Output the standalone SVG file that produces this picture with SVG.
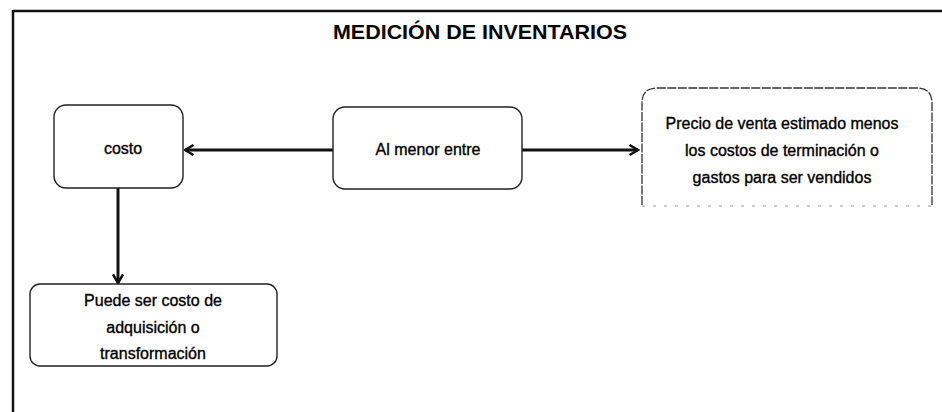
<svg xmlns="http://www.w3.org/2000/svg" width="942" height="412" viewBox="0 0 942 412">
<style>
.box{fill:#fff;stroke:#222;stroke-width:1.4}
.faint{fill:none;stroke:#333;stroke-width:1.3;stroke-dasharray:9 1.5}
.lbl{font-family:"Liberation Sans",Arial,sans-serif;font-size:16px;fill:#000;stroke:#000;stroke-width:0.35;text-anchor:middle}
.title{font-family:"Liberation Sans",Arial,sans-serif;font-size:20px;font-weight:bold;fill:#000;text-anchor:middle}
.conn{stroke:#111;stroke-width:3;fill:none}
</style>
<defs>
<marker id="arr" viewBox="0 0 12 12" refX="10.5" refY="6" markerWidth="12" markerHeight="12" markerUnits="userSpaceOnUse" orient="auto">
<path d="M2,1 L10.5,6 L2,11" fill="none" stroke="#111" stroke-width="2.5"/>
</marker>
</defs>
<rect width="942" height="412" fill="#fff"/>
<g id="frame">
<line x1="13" y1="11" x2="942" y2="11" stroke="#111" stroke-width="2.5"/>
<line x1="13" y1="10" x2="13" y2="412" stroke="#111" stroke-width="2.5"/>
</g>
<text class="title" x="480" y="39" textLength="294" lengthAdjust="spacingAndGlyphs">MEDICIÓN DE INVENTARIOS</text>
<g id="connectors">
<line class="conn" x1="333" y1="150" x2="185" y2="150" marker-end="url(#arr)"/>
<line class="conn" x1="522" y1="150" x2="638" y2="150" marker-end="url(#arr)"/>
<line class="conn" x1="118" y1="188" x2="118" y2="283" marker-end="url(#arr)"/>
</g>
<g id="node-costo">
<rect class="box" x="54" y="105" width="129" height="83" rx="12"/>
<text class="lbl" x="123" y="154">costo</text>
</g>
<g id="node-menor">
<rect class="box" x="333" y="107" width="189" height="82" rx="12"/>
<text class="lbl" x="428" y="155">Al menor entre</text>
</g>
<g id="node-precio">
<path class="faint" d="M642,205 L642,103 Q642,88 657,88 L917,88 Q932,88 932,103 L932,205"/>
<line x1="642" y1="206" x2="932" y2="206" stroke="#999" stroke-width="1" stroke-dasharray="3 8"/>
<text class="lbl" x="782" y="129">Precio de venta estimado menos</text>
<text class="lbl" x="782" y="156">los costos de terminación o</text>
<text class="lbl" x="782" y="183">gastos para ser vendidos</text>
</g>
<g id="node-puede">
<rect class="box" x="30" y="284" width="247" height="82" rx="10"/>
<text class="lbl" x="153" y="306">Puede ser costo de</text>
<text class="lbl" x="153" y="333">adquisición o</text>
<text class="lbl" x="153" y="359">transformación</text>
</g>
</svg>
